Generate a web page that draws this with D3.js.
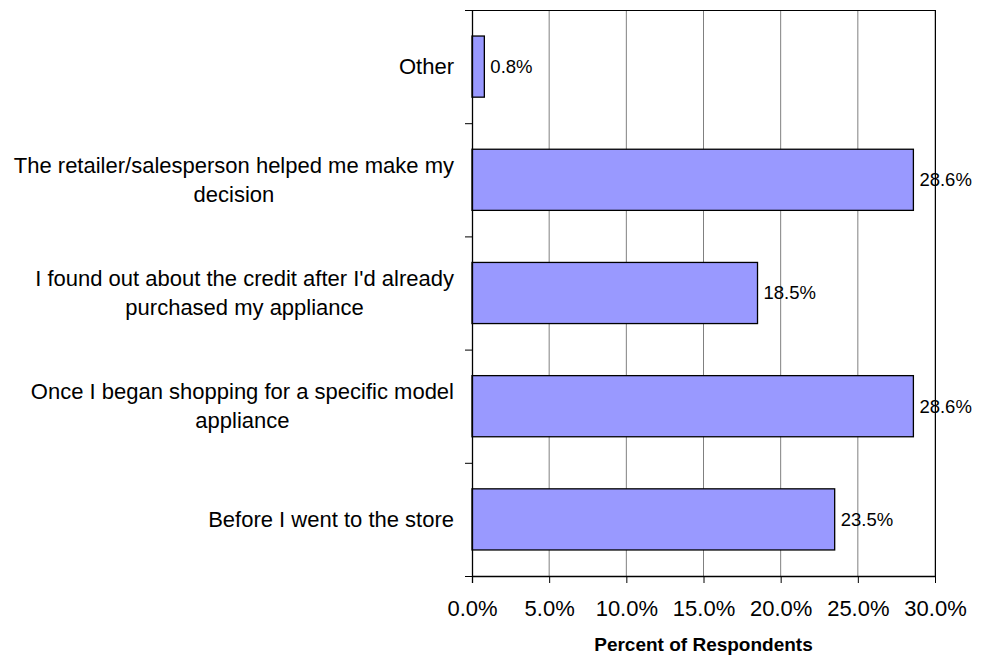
<!DOCTYPE html>
<html>
<head>
<meta charset="utf-8">
<script src="https://cdn.jsdelivr.net/npm/d3@7"></script>
<style>
  body { margin: 0; background: #fff; }
  svg { display: block; font-family: Arial, "Liberation Sans", sans-serif; }
</style>
</head>
<body>
<svg id="chart" width="982" height="658"></svg>
<script>
// categories top to bottom, each label split into its lines
const categories = [
  ["Other"],
  ["The retailer/salesperson helped me make my", "decision"],
  ["I found out about the credit after I'd already", "purchased my appliance"],
  ["Once I began shopping for a specific model", "appliance"],
  ["Before I went to the store"]
];
const values = [0.8, 28.6, 18.5, 28.6, 23.5];
const xTicks = [0, 5, 10, 15, 20, 25, 30];
const xTitle = "Percent of Respondents";

const margin = { top: 10, left: 472, right: 47, bottom: 82 };
const W = 982, H = 658;

const svg = d3.select("#chart");

const x = d3.scaleLinear().domain([0, 30]).range([margin.left, W - margin.right]);
const y = d3.scaleBand()
  .domain(d3.range(categories.length))
  .range([margin.top, H - margin.bottom])
  .paddingInner(0.46)
  .paddingOuter(0.23);

// gridlines
svg.append("g")
  .selectAll("line")
  .data(xTicks.slice(1))
  .join("line")
  .attr("x1", d => x(d)).attr("x2", d => x(d))
  .attr("y1", margin.top).attr("y2", H - margin.bottom)
  .attr("stroke", "#808080")
  .attr("stroke-width", 1);

// frame top & right
svg.append("line")
  .attr("x1", margin.left).attr("x2", x(30))
  .attr("y1", margin.top + 0.5).attr("y2", margin.top + 0.5)
  .attr("stroke", "#000");
svg.append("line")
  .attr("x1", x(30) + 0.5).attr("x2", x(30) + 0.5)
  .attr("y1", margin.top).attr("y2", H - margin.bottom)
  .attr("stroke", "#000");

// bars
svg.append("g")
  .selectAll("rect")
  .data(values)
  .join("rect")
  .attr("x", x(0))
  .attr("y", (d, i) => y(i))
  .attr("width", d => x(d) - x(0))
  .attr("height", y.bandwidth())
  .attr("fill", "#9999FF")
  .attr("stroke", "#000")
  .attr("stroke-width", 1.3);

// value labels
svg.append("g")
  .selectAll("text")
  .data(values)
  .join("text")
  .attr("x", d => x(d) + 6)
  .attr("y", (d, i) => y(i) + y.bandwidth() / 2)
  .attr("dy", "0.35em")
  .attr("font-size", 18.5)
  .attr("fill", "#000")
  .text(d => d.toFixed(1) + "%");

// x axis
const xAxis = svg.append("g")
  .attr("transform", `translate(0,${H - margin.bottom})`)
  .call(d3.axisBottom(x).tickValues(xTicks).tickSize(7).tickSizeOuter(0)
    .tickFormat(d => d.toFixed(1) + "%"));
xAxis.select(".domain").attr("stroke", "#000").attr("stroke-width", 1.3);
xAxis.selectAll(".tick line").attr("stroke", "#000");
xAxis.selectAll(".tick text")
  .attr("font-size", 22)
  .attr("font-family", "Arial, 'Liberation Sans', sans-serif")
  .attr("fill", "#000")
  .attr("y", 32)
  .attr("dy", "0.35em");

// y axis line + boundary ticks
const yBounds = d3.range(categories.length + 1)
  .map(i => margin.top + i * (H - margin.bottom - margin.top) / categories.length);
svg.append("line")
  .attr("x1", margin.left + 0.5).attr("x2", margin.left + 0.5)
  .attr("y1", margin.top).attr("y2", H - margin.bottom + 7)
  .attr("stroke", "#000").attr("stroke-width", 1.3);
svg.append("g")
  .selectAll("line")
  .data(yBounds)
  .join("line")
  .attr("x1", margin.left - 7).attr("x2", margin.left)
  .attr("y1", d => d + 0.5).attr("y2", d => d + 0.5)
  .attr("stroke", "#000");

// category labels (block right-aligned, lines centred)
const lineH = 29;
categories.forEach((lines, i) => {
  const g = svg.append("g");
  const cy = y(i) + y.bandwidth() / 2;
  const texts = lines.map((s, k) => g.append("text")
    .attr("font-size", 22)
    .attr("text-anchor", "middle")
    .attr("y", cy + (k - (lines.length - 1) / 2) * lineH)
    .attr("dy", "0.35em")
    .attr("fill", "#000")
    .text(s));
  const maxW = d3.max(texts, t => t.node().getComputedTextLength());
  const cx = 454 - maxW / 2;
  texts.forEach(t => t.attr("x", cx));
});

// axis title
svg.append("text")
  .attr("x", (x(0) + x(30)) / 2)
  .attr("y", 644)
  .attr("dy", "0.35em")
  .attr("text-anchor", "middle")
  .attr("font-size", 19)
  .attr("font-weight", "bold")
  .text(xTitle);
</script>
</body>
</html>
